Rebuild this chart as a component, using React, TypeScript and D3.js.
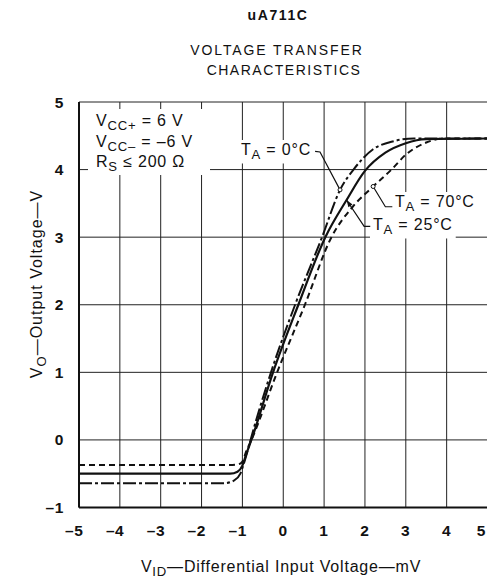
import React, { useEffect, useRef } from 'react';
import * as d3 from 'd3';

// tick values
const xTicks = [-5, -4, -3, -2, -1, 0, 1, 2, 3, 4, 5];
const yTicks = [-1, 0, 1, 2, 3, 4, 5];

// T_A = 25°C (solid)
const vid25 = [-5, -1.3, -1.12, -1.0, -0.9, -0.78, -0.25, 0.37, 1.03, 1.55, 2.0, 2.5, 3.0, 3.5, 5];
const vo25 = [-0.5, -0.5, -0.47, -0.38, -0.2, 0, 1, 2, 3, 3.55, 3.98, 4.25, 4.39, 4.45, 4.46];

// T_A = 0°C (dash-dot)
const vid0 = [-5, -1.45, -1.2, -1.05, -0.98, -0.88, -0.8, -0.3, 0.29, 0.95, 1.39, 1.72, 2.2, 2.7, 3.2, 5];
const vo0 = [-0.64, -0.64, -0.6, -0.5, -0.38, -0.18, 0, 1, 2, 3, 3.7, 4.0, 4.3, 4.42, 4.46, 4.46];

// T_A = 70°C (dashed)
const vid70 = [-5, -1.3, -1.1, -1.0, -0.9, -0.78, -0.15, 0.53, 1.18, 1.7, 2.2, 2.65, 3.0, 3.5, 3.9, 5];
const vo70 = [-0.37, -0.37, -0.36, -0.32, -0.16, 0, 1, 2, 3, 3.45, 3.75, 4.0, 4.22, 4.4, 4.46, 4.46];

const FONT = "'Liberation Sans', Arial, Helvetica, sans-serif";

type Part = { t: string; sub?: boolean };

function richText(g: any, x: number, y: number, parts: Part[], size: number, anchor = 'start', ls = 0.8) {
  const t = g.append('text')
    .attr('x', x)
    .attr('y', y)
    .attr('font-family', FONT)
    .attr('font-size', size)
    .attr('letter-spacing', ls)
    .attr('text-anchor', anchor)
    .attr('fill', '#111');
  let shifted = false;
  parts.forEach(p => {
    const ts = t.append('tspan').text(p.t);
    if (p.sub && !shifted) {
      ts.attr('dy', size * 0.28).attr('font-size', size * 0.82);
      shifted = true;
    } else if (!p.sub && shifted) {
      ts.attr('dy', -size * 0.28);
      shifted = false;
    }
  });
  return t;
}

const App: React.FC = () => {
  const svgRef = useRef<SVGSVGElement>(null);

  useEffect(() => {
    const svg = d3.select(svgRef.current);
    svg.selectAll('*').remove();

    const x = d3.scaleLinear().domain([-5, 5]).range([79, 487.5]);
    const y = d3.scaleLinear().domain([-1, 5]).range([507.5, 102]);

    // titles
    svg.append('text')
      .attr('x', 278).attr('y', 20)
      .attr('text-anchor', 'middle')
      .attr('font-family', FONT).attr('font-weight', 'bold')
      .attr('font-size', 14).attr('letter-spacing', 1.6)
      .attr('fill', '#111')
      .text('uA711C');
    svg.append('text')
      .attr('x', 277).attr('y', 55)
      .attr('text-anchor', 'middle')
      .attr('font-family', FONT).attr('font-size', 14).attr('letter-spacing', 1.9)
      .attr('fill', '#111')
      .text('VOLTAGE TRANSFER');
    svg.append('text')
      .attr('x', 284).attr('y', 75)
      .attr('text-anchor', 'middle')
      .attr('font-family', FONT).attr('font-size', 14).attr('letter-spacing', 1.5)
      .attr('fill', '#111')
      .text('CHARACTERISTICS');

    const g = svg.append('g');

    // grid
    g.selectAll('.vgrid')
      .data(xTicks)
      .enter().append('line')
      .attr('x1', d => x(d)).attr('x2', d => x(d))
      .attr('y1', y(5)).attr('y2', y(-1))
      .attr('stroke', '#222').attr('stroke-width', 1);
    g.selectAll('.hgrid')
      .data(yTicks)
      .enter().append('line')
      .attr('x1', x(-5)).attr('x2', x(5))
      .attr('y1', d => y(d)).attr('y2', d => y(d))
      .attr('stroke', '#222').attr('stroke-width', 1);

    // frame
    g.append('line')
      .attr('x1', x(-5)).attr('x2', x(-5)).attr('y1', y(5)).attr('y2', y(-1))
      .attr('stroke', '#111').attr('stroke-width', 2);
    g.append('line')
      .attr('x1', x(-5)).attr('x2', x(5)).attr('y1', y(-1)).attr('y2', y(-1))
      .attr('stroke', '#111').attr('stroke-width', 2);

    // tick labels
    g.selectAll('.xl')
      .data(xTicks)
      .enter().append('text')
      .attr('x', d => Math.min(x(d) + 4.5, 486))
      .attr('y', 536)
      .attr('text-anchor', 'end')
      .attr('font-family', FONT).attr('font-weight', 'bold').attr('font-size', 15.5)
      .attr('letter-spacing', 0.6)
      .attr('fill', '#111')
      .text(d => (d < 0 ? '\u2013' + Math.abs(d) : String(d)));
    g.selectAll('.yl')
      .data(yTicks)
      .enter().append('text')
      .attr('x', 64)
      .attr('y', d => y(d) + 5.5)
      .attr('text-anchor', 'end')
      .attr('font-family', FONT).attr('font-weight', 'bold').attr('font-size', 15.5)
      .attr('letter-spacing', 0.6)
      .attr('fill', '#111')
      .text(d => (d < 0 ? '\u2013' + Math.abs(d) : String(d)));

    // axis titles
    richText(svg, 281, 572, [{ t: 'V' }, { t: 'ID', sub: true }, { t: '\u2014Differential Input Voltage\u2014mV' }], 16, 'middle', 0.8);
    const yt = richText(svg, 0, 0, [{ t: 'V' }, { t: 'O', sub: true }, { t: '\u2014Output Voltage\u2014V' }], 16, 'middle', 1.0);
    yt.attr('transform', 'translate(42,284) rotate(-90)');

    // labels with white backing
    const label = (tx: number, ty: number, parts: Part[]) => {
      const lg = g.append('g');
      const t = richText(lg, tx, ty, parts, 16);
      const bb = (t.node() as SVGTextElement).getBBox();
      lg.insert('rect', 'text')
        .attr('x', bb.x - 3).attr('y', bb.y - 1)
        .attr('width', bb.width + 6).attr('height', bb.height + 2)
        .attr('fill', '#fff');
      return lg;
    };

    // conditions box
    const cg = g.append('g');
    cg.append('rect').attr('x', 88).attr('y', 109).attr('width', 122).attr('height', 66).attr('fill', '#fff');
    richText(cg, 96, 126, [{ t: 'V' }, { t: 'CC+', sub: true }, { t: ' = 6 V' }], 16);
    richText(cg, 96, 147, [{ t: 'V' }, { t: 'CC\u2013', sub: true }, { t: ' = \u20136 V' }], 16);
    richText(cg, 96, 167, [{ t: 'R' }, { t: 'S', sub: true }, { t: ' \u2264 200 \u03A9' }], 16);

    // curves
    const line = d3.line<[number, number]>()
      .x(d => x(d[0]))
      .y(d => y(d[1]))
      .curve(d3.curveMonotoneX);

    const series = [
      { xs: vid70, ys: vo70, dash: '6,4', w: 2 },
      { xs: vid0, ys: vo0, dash: '13,3,3,3', w: 2 },
      { xs: vid25, ys: vo25, dash: null, w: 2.2 },
    ];
    series.forEach(s => {
      const pts = s.xs.map((v, i) => [v, s.ys[i]] as [number, number]);
      g.append('path')
        .attr('d', line(pts) as string)
        .attr('fill', 'none')
        .attr('stroke', '#111')
        .attr('stroke-width', s.w)
        .attr('stroke-dasharray', s.dash);
    });

    // annotations
    label(241, 155, [{ t: 'T' }, { t: 'A', sub: true }, { t: ' = 0\u00B0C' }]);
    label(395, 207, [{ t: 'T' }, { t: 'A', sub: true }, { t: ' = 70\u00B0C' }]);
    label(373, 230, [{ t: 'T' }, { t: 'A', sub: true }, { t: ' = 25\u00B0C' }]);

    const leaders: { pts: [number, number][]; end: string }[] = [
      { pts: [[0.78, 4.27], [0.9, 4.26], [1.39, 3.7]], end: 'circle' },
      { pts: [[2.67, 3.45], [2.5, 3.45], [2.2, 3.75]], end: 'circle' },
      { pts: [[2.13, 3.16], [1.98, 3.16], [1.55, 3.55]], end: 'arrow' },
    ];
    leaders.forEach(l => {
      g.append('path')
        .attr('d', d3.line<[number, number]>().x(d => x(d[0])).y(d => y(d[1]))(l.pts) as string)
        .attr('fill', 'none').attr('stroke', '#111').attr('stroke-width', 1.2);
      const [ex, ey] = l.pts[2];
      const [px, py] = l.pts[1];
      if (l.end === 'circle') {
        g.append('circle')
          .attr('cx', x(ex)).attr('cy', y(ey)).attr('r', 2)
          .attr('fill', '#fff').attr('stroke', '#111').attr('stroke-width', 1);
      } else {
        const ang = Math.atan2(y(ey) - y(py), x(ex) - x(px));
        const ax = x(ex), ay = y(ey);
        const L = 7, W = 2.5;
        const bx = ax - L * Math.cos(ang), by = ay - L * Math.sin(ang);
        const nx = -Math.sin(ang) * W, ny = Math.cos(ang) * W;
        g.append('path')
          .attr('d', `M${ax},${ay}L${bx + nx},${by + ny}L${bx - nx},${by - ny}Z`)
          .attr('fill', '#111');
      }
    });
  }, []);

  return (
    <svg
      ref={svgRef}
      width={487}
      height={580}
      style={{ position: 'absolute', left: 0, top: 0, background: '#fff' }}
    ></svg>
  );
};

export default App;
